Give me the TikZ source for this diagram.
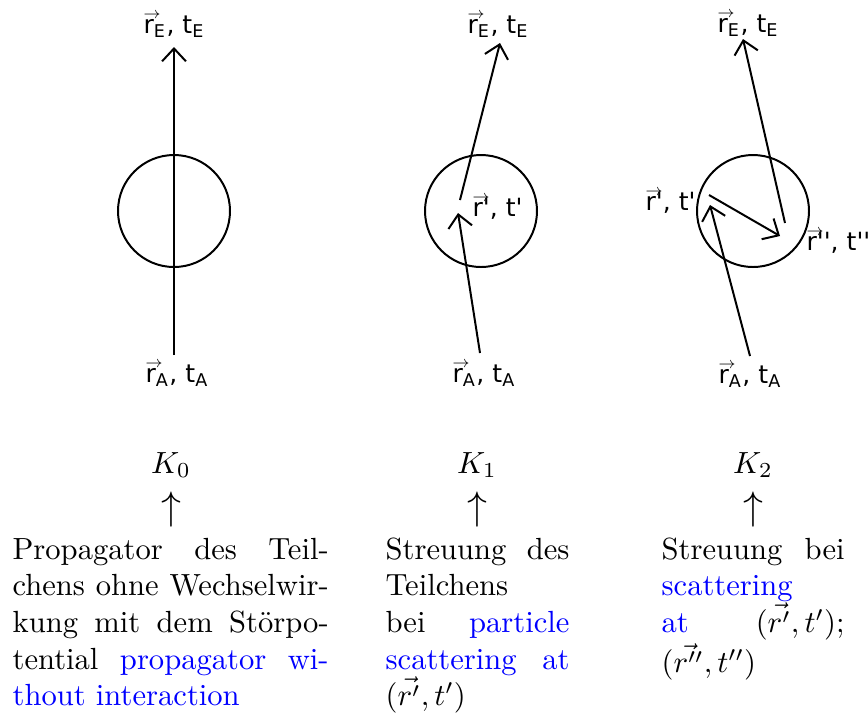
\documentclass[tikz,border=0pt]{standalone}
\usepackage{fontspec}
\usepackage{xcolor}
\usepackage{graphicx}
\usetikzlibrary{arrows.meta}
\newfontfamily\lblfont{DejaVu Sans}[Ligatures=TeXOff]
\newcommand\vecr[1]{\leavevmode\rlap{\raisebox{4.6pt}{\scalebox{0.65}{$\rightarrow$}}}#1}
\newcommand\loosepar{\tolerance=10000\relax\hyphenpenalty=10000\relax}
\tikzset{
  lbl/.style={font=\lblfont\fontsize{8.2}{10}\selectfont, inner sep=0pt, anchor=base west},
  ring/.style={draw, line width=0.65pt},
  path/.style={draw, line width=0.65pt, -{Straight Barb[length=4.2pt, width=7.8pt]}},
  ktxt/.style={inner sep=0pt, anchor=base},
  upar/.style={inner sep=0pt, anchor=center},
  bodytext/.style={anchor=base west, inner sep=0pt, align=justify,
    font=\fontsize{10}{12}\selectfont}
}
\begin{document}
\begin{tikzpicture}[x=0.3268pt, y=-0.3268pt]
\useasboundingbox (0,0) rectangle (868,715);
% circles
\node[ring, circle, minimum size=36.6pt, inner sep=0pt] (c0) at (174,211) {};
\node[ring, circle, minimum size=36.6pt, inner sep=0pt] (c1) at (481,211) {};
\node[ring, circle, minimum size=36.6pt, inner sep=0pt] (c2) at (753,211) {};
% labels
\node[lbl] (rE0) at (143,33) {\vecr{r}\textsubscript{E}, t\textsubscript{E}};
\node[lbl] (rA0) at (145,382) {\vecr{r}\textsubscript{A}, t\textsubscript{A}};
\node[lbl] (rE1) at (467,33) {\vecr{r}\textsubscript{E}, t\textsubscript{E}};
\node[lbl] (rP1) at (472,216) {\vecr{r}', t'};
\node[lbl] (rA1) at (452,382) {\vecr{r}\textsubscript{A}, t\textsubscript{A}};
\node[lbl] (rE2) at (717,32) {\vecr{r}\textsubscript{E}, t\textsubscript{E}};
\node[lbl] (rP2) at (645,210) {\vecr{r}', t'};
\node[lbl] (rPP2) at (806,250) {\vecr{r}'', t''};
\node[lbl] (rA2) at (718,383) {\vecr{r}\textsubscript{A}, t\textsubscript{A}};
% path end points
\coordinate (a0s) at (174,355);
\coordinate (a0e) at (174,47);
\coordinate (a1s) at (480,353);
\coordinate (a1m) at (458,213);
\coordinate (b1s) at (460,200);
\coordinate (b1e) at (500,43);
\coordinate (a2s) at (750,356);
\coordinate (a2m) at (710,205);
\coordinate (b2s) at (709,195);
\coordinate (b2m) at (780,236);
\coordinate (d2s) at (785,223);
\coordinate (d2e) at (743,39);
\draw[path] (a0s) -- (a0e);
\draw[path] (a1s) -- (a1m);
\draw[path] (b1s) -- (b1e);
\draw[path] (a2s) -- (a2m);
\draw[path] (b2s) -- (b2m);
\draw[path] (d2s) -- (d2e);
% K labels
\node[ktxt] (K0) at (171,473) {$K_0$};
\node[ktxt] (K1) at (477,473) {$K_1$};
\node[ktxt] (K2) at (753,473) {$K_2$};
\node[upar] (u0) at (171,509.5) {\scalebox{1.3}{$\uparrow$}};
\node[upar] (u1) at (477,509.5) {\scalebox{1.3}{$\uparrow$}};
\node[upar] (u2) at (753,509.5) {\scalebox{1.3}{$\uparrow$}};
% body texts
\node[bodytext, text width=103.3pt] (t0) at (12,559)
 {\loosepar Propagator des Teil-\linebreak chens ohne Wechselwir-\linebreak kung mit dem St\"orpo-\linebreak tential \textcolor{blue}{propagator wi-\linebreak thout interaction}};
\node[bodytext, text width=60.1pt] (t1) at (385,559)
 {\loosepar Streuung des\linebreak Teilchens\newline bei \textcolor{blue}{particle\linebreak scattering at}\linebreak $(\vec{r'},t')$};
\node[bodytext, text width=59.8pt] (t2) at (661,559)
 {\loosepar Streuung bei\linebreak \textcolor{blue}{scattering}\newline \textcolor{blue}{at} $(\vec{r'},t')$;\linebreak $(\vec{r''},t'')$};
\end{tikzpicture}
\end{document}
